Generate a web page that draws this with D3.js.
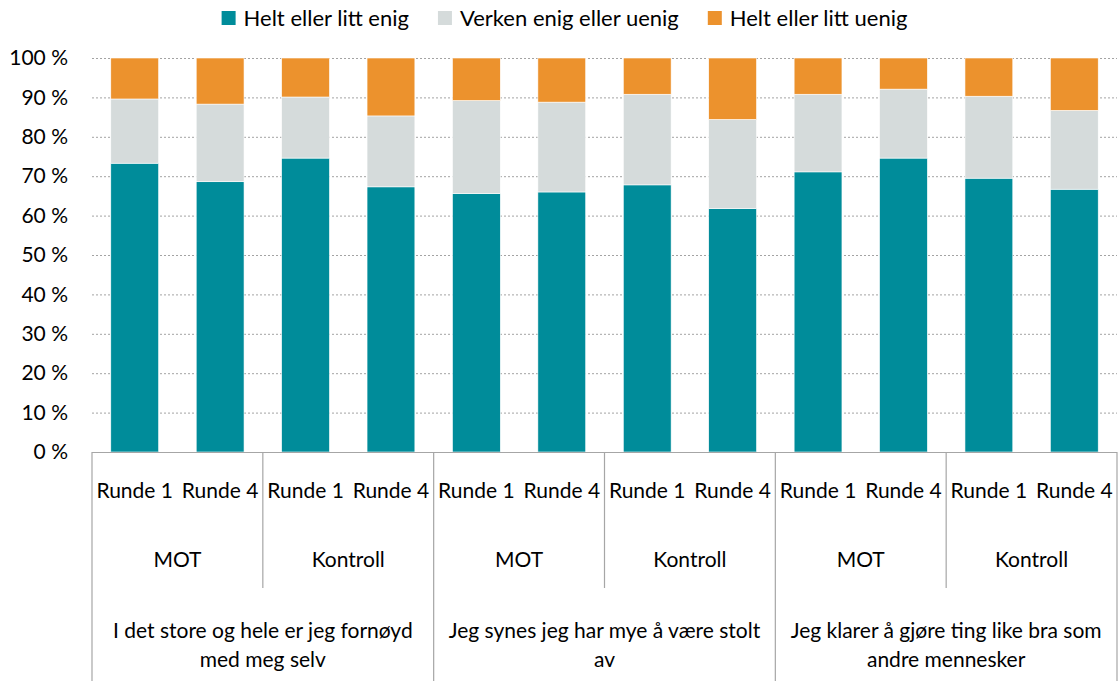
<!DOCTYPE html>
<html>
<head>
<meta charset="utf-8">
<style>
  body { margin: 0; background: #fff; }
  svg text { font-family: Lato, "Open Sans", sans-serif; fill: #000; }
</style>
</head>
<body>
<svg id="chart" width="1120" height="681"></svg>
<script src="https://d3js.org/d3.v7.min.js"></script>
<script>
// data
const questions = [
  ["I det store og hele er jeg fornøyd", "med meg selv"],
  ["Jeg synes jeg har mye å være stolt", "av"],
  ["Jeg klarer å gjøre ting like bra som", "andre mennesker"]
];
const groups = ["MOT", "Kontroll"];
const rounds = ["Runde 1", "Runde 4"];
const seriesNames = ["Helt eller litt enig", "Verken enig eller uenig", "Helt eller litt uenig"];
const enig   = [73.3, 68.6, 74.6, 67.3, 65.6, 66.0, 67.8, 61.8, 71.1, 74.6, 69.5, 66.7];
const verken = [16.3, 19.7, 15.5, 18.0, 23.6, 22.8, 23.0, 22.6, 19.7, 17.5, 20.8, 20.0];
const uenig  = [10.4, 11.7,  9.9, 14.7, 10.8, 11.2,  9.2, 15.6,  9.2,  7.9,  9.7, 13.3];
const yTicks = [0, 10, 20, 30, 40, 50, 60, 70, 80, 90, 100];
const colors = ["#008c9a", "#d5dbdb", "#ec922d"];

const rows = enig.map((v, i) => ({
  i: i,
  [seriesNames[0]]: v,
  [seriesNames[1]]: verken[i],
  [seriesNames[2]]: uenig[i]
}));

const svg = d3.select("#chart");
const plotLeft = 92, plotRight = 1117, plotTop = 58, plotBase = 452;
const fontSize = "21px";

const x = d3.scaleBand().domain(d3.range(rows.length)).range([plotLeft, plotRight])
  .paddingInner(0.44).paddingOuter(0.22);
const y = d3.scaleLinear().domain([0, 100]).range([plotBase, plotTop]);
const color = d3.scaleOrdinal().domain(seriesNames).range(colors);
const step = x.step();

// gridlines
svg.append("g").selectAll("line")
  .data(yTicks.filter(d => d > 0))
  .join("line")
  .attr("x1", plotLeft).attr("x2", plotRight)
  .attr("y1", d => y(d) + 0.5).attr("y2", d => y(d) + 0.5)
  .attr("stroke", "#a3a3a3").attr("stroke-width", 1)
  .attr("stroke-dasharray", "2,2");

// y axis
const yAxis = svg.append("g").attr("transform", `translate(${plotLeft},0)`)
  .call(d3.axisLeft(y).tickValues(yTicks).tickFormat(d => d + " %").tickSize(0).tickPadding(24));
yAxis.select(".domain").remove();
yAxis.selectAll("text").style("font-size", fontSize).style("font-family", "Lato, 'Open Sans', sans-serif").attr("fill", "#000");

// stacked bars
const stacked = d3.stack().keys(seriesNames)(rows);
svg.append("g").selectAll("g")
  .data(stacked)
  .join("g")
  .attr("fill", d => color(d.key))
  .selectAll("rect")
  .data(d => d)
  .join("rect")
  .attr("x", d => x(d.data.i))
  .attr("width", x.bandwidth())
  .attr("y", d => y(d[1]))
  .attr("height", d => y(d[0]) - y(d[1]))
  .attr("stroke", "#ffffff").attr("stroke-width", 0.6);

// category axis: baseline and separators
const lineColor = "#a6a6a6";
svg.append("line")
  .attr("x1", plotLeft).attr("x2", plotRight).attr("y1", plotBase + 0.5).attr("y2", plotBase + 0.5)
  .attr("stroke", lineColor).attr("stroke-width", 1.2);

const nGroups = rows.length / 2;
svg.append("g").selectAll("line")
  .data(d3.range(nGroups + 1))
  .join("line")
  .attr("x1", g => plotLeft + g * 2 * step).attr("x2", g => plotLeft + g * 2 * step)
  .attr("y1", plotBase)
  .attr("y2", g => g % 2 === 0 ? 681 : 588)
  .attr("stroke", lineColor).attr("stroke-width", 1.2);

// round labels
svg.append("g").selectAll("text")
  .data(rows)
  .join("text")
  .attr("x", d => x(d.i) + x.bandwidth() / 2)
  .attr("y", 498)
  .attr("text-anchor", "middle")
  .style("font-size", fontSize)
  .text(d => rounds[d.i % 2]);

// group labels
svg.append("g").selectAll("text")
  .data(d3.range(nGroups))
  .join("text")
  .attr("x", g => plotLeft + (g * 2 + 1) * step)
  .attr("y", 567)
  .attr("text-anchor", "middle")
  .style("font-size", fontSize)
  .text(g => groups[g % 2]);

// question labels
const qText = svg.append("g").selectAll("text")
  .data(questions)
  .join("text")
  .attr("text-anchor", "middle")
  .style("font-size", fontSize);
qText.selectAll("tspan")
  .data((d, qi) => d.map((line, li) => ({ line, li, qi })))
  .join("tspan")
  .attr("x", d => plotLeft + (d.qi * 4 + 2) * step)
  .attr("y", d => 638 + d.li * 29)
  .text(d => d.line);

// legend
const legend = svg.append("g");
const items = legend.selectAll("g")
  .data(seriesNames)
  .join("g");
items.append("rect")
  .attr("width", 14).attr("height", 14).attr("y", 11)
  .attr("fill", d => color(d));
items.append("text")
  .attr("x", 22).attr("y", 26)
  .style("font-size", "22px")
  .text(d => d);
let pos = 0;
items.each(function () {
  d3.select(this).attr("transform", `translate(${pos},0)`);
  pos += this.getBBox().width + 29;
});
const legendWidth = pos - 29;
legend.attr("transform", `translate(${564.5 - legendWidth / 2},0)`);
</script>
</body>
</html>
